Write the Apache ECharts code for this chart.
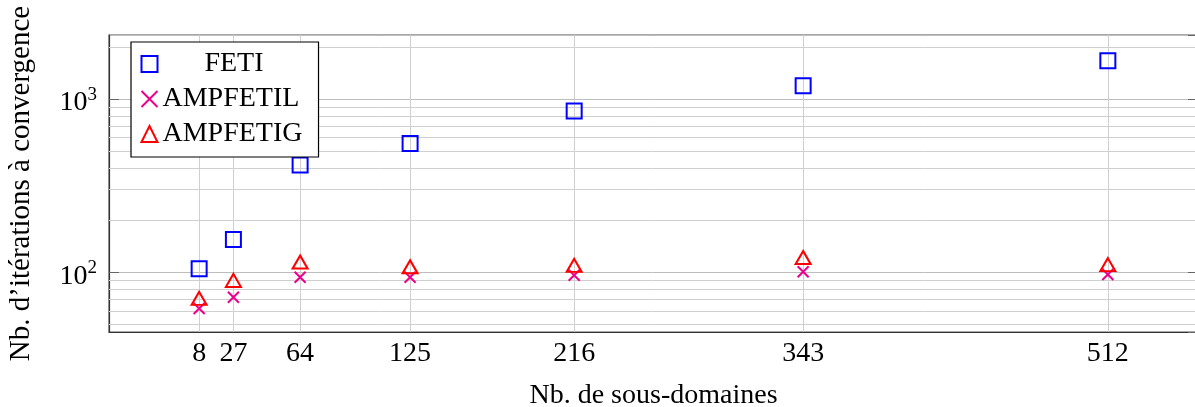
<!DOCTYPE html>
<html>
<head>
<meta charset="utf-8">
<script src="https://cdn.jsdelivr.net/npm/echarts@6/dist/echarts.min.js"></script>
<style>
  html, body { margin: 0; padding: 0; background: #fff; }
  #chart-container { width: 1195px; height: 407px; }
</style>
</head>
<body>
<div id="chart-container"></div>
<script>
// nombre de sous-domaines
var subdomains = [8, 27, 64, 125, 216, 343, 512];
// iterations a convergence
var feti = [105, 155, 416, 555, 853, 1193, 1663];
var ampfetil = [62, 72, 94, 94, 96.5, 101, 97.5];
var ampfetig = [71, 90, 115, 108, 110, 122, 111];
// lignes de grille mineures (log)
var minorY = [50, 60, 70, 80, 90, 200, 300, 400, 500, 600, 700, 800, 900, 2000];

var serif = 'Liberation Serif';

function pairs(ys) {
  return subdomains.map(function (x, i) { return [x, ys[i]]; });
}

var dom = document.getElementById('chart-container');
var myChart = echarts.init(dom, null, { renderer: 'canvas' });

var option = {
  animation: false,
  backgroundColor: '#ffffff',
  textStyle: { fontFamily: serif },
  grid: {
    left: 109,
    right: -3,
    top: 35,
    bottom: 75,
    outerBoundsMode: 'none',
    containLabel: false,
    show: true,
    borderColor: '#555',
    borderWidth: 1.2
  },
  legend: {
    data: ['FETI', 'AMPFETIL', 'AMPFETIG'],
    orient: 'vertical',
    left: 131,
    top: 42,
    z: 10,
    padding: [8, 16, 9, 8],
    itemGap: 7,
    itemWidth: 16,
    itemHeight: 16,
    backgroundColor: '#ffffff',
    borderColor: '#000',
    borderWidth: 1.2,
    borderRadius: 0,
    formatter: function (name) {
      return name === 'FETI' ? '{c|' + name + '}' : '{l|' + name + '}';
    },
    textStyle: {
      color: '#000',
      fontFamily: serif,
      fontSize: 28,
      rich: {
        c: { width: 143, align: 'center', fontSize: 28, fontFamily: serif },
        l: { width: 143, align: 'left', fontSize: 28, fontFamily: serif }
      }
    }
  },
  xAxis: [
    {
      type: 'value',
      min: -42,
      max: 562,
      name: 'Nb. de sous-domaines',
      nameLocation: 'middle',
      nameGap: 50,
      nameTextStyle: { color: '#000', fontFamily: serif, fontSize: 28 },
      axisLine: { show: true, onZero: false, lineStyle: { color: '#333', width: 1.2 } },
      axisTick: { show: true, inside: true, length: 7, customValues: subdomains, lineStyle: { color: '#666' } },
      axisLabel: { customValues: subdomains, color: '#000', fontFamily: serif, fontSize: 28, margin: 8 },
      splitLine: { show: false }
    },
    {
      type: 'value',
      position: 'top',
      min: -42,
      max: 562,
      axisLine: { show: false, onZero: false },
      axisTick: { show: true, inside: true, length: 7, customValues: subdomains, lineStyle: { color: '#666' } },
      axisLabel: { show: false },
      splitLine: { show: false }
    }
  ],
  yAxis: [
    {
      type: 'log',
      logBase: 10,
      min: 45.4,
      max: 2340,
      name: 'Nb. d\u2019itérations à convergence',
      nameLocation: 'middle',
      nameGap: 73,
      nameTextStyle: { color: '#000', fontFamily: serif, fontSize: 29 },
      axisLine: { show: true, onZero: false, lineStyle: { color: '#333', width: 1.2 } },
      axisTick: { show: true, inside: true, length: 10, lineStyle: { color: '#666' } },
      axisLabel: {
        color: '#000',
        margin: 12,
        showMinLabel: false,
        showMaxLabel: false,
        formatter: function (v) {
          var e = Math.log(v) / Math.LN10;
          var r = Math.round(e);
          if (Math.abs(e - r) > 1e-6) return '';
          return '{b|10}{s|' + r + '}';
        },
        rich: {
          b: { fontFamily: serif, fontSize: 28, color: '#000', padding: [8, 0, 0, 0] },
          s: { fontFamily: serif, fontSize: 19, color: '#000', padding: [0, 0, 8, 0] }
        }
      },
      splitLine: { show: true, lineStyle: { color: '#bdbdbd', width: 1 } }
    },
    {
      type: 'log',
      logBase: 10,
      min: 45.4,
      max: 2340,
      position: 'right',
      axisLine: { show: false, onZero: false },
      axisTick: { show: true, inside: true, length: 10, lineStyle: { color: '#666' } },
      axisLabel: { show: false },
      splitLine: { show: false }
    }
  ],
  series: [
    {
      name: 'grille',
      type: 'scatter',
      z: 1,
      data: [],
      markLine: {
        z: 1,
        silent: true,
        symbol: ['none', 'none'],
        label: { show: false },
        lineStyle: { color: '#cfcfcf', type: 'solid', width: 1 },
        data: subdomains.map(function (x) { return { xAxis: x }; })
          .concat(minorY.map(function (y) { return { yAxis: y }; }))
      }
    },
    {
      name: 'FETI',
      type: 'scatter',
      z: 3,
      symbol: 'rect',
      symbolSize: 15,
      itemStyle: { color: 'rgba(0,0,0,0)', borderColor: '#0000ff', borderWidth: 2, opacity: 1 },
      data: pairs(feti)
    },
    {
      name: 'AMPFETIL',
      type: 'scatter',
      z: 3,
      symbol: 'path://M0,0L10,10M10,0L0,10',
      symbolSize: 11,
      itemStyle: { color: 'none', borderColor: '#ec008c', borderWidth: 2, opacity: 1 },
      data: pairs(ampfetil)
    },
    {
      name: 'AMPFETIG',
      type: 'scatter',
      z: 3,
      symbol: 'triangle',
      symbolSize: [15, 13],
      itemStyle: { color: 'rgba(0,0,0,0)', borderColor: '#ff0000', borderWidth: 2, opacity: 1 },
      data: pairs(ampfetig)
    }
  ]
};

myChart.setOption(option);
window.addEventListener('resize', myChart.resize);
</script>
</body>
</html>
